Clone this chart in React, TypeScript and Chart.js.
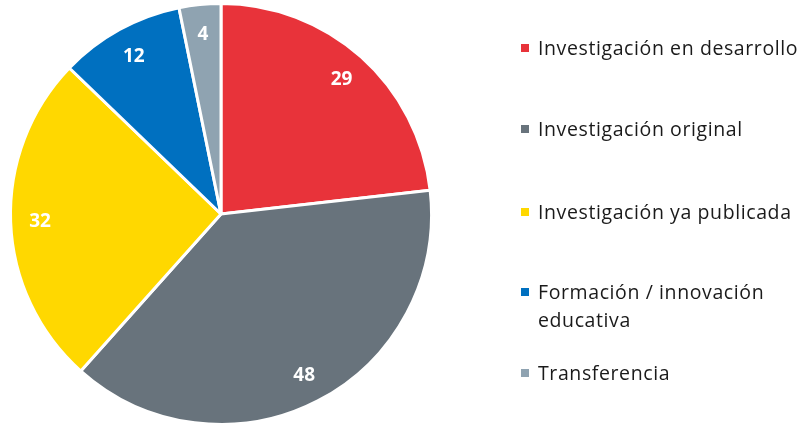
import React, { useEffect, useRef } from "react";
import { Chart, registerables } from "chart.js";

Chart.register(...registerables);

const categories = [
  "Investigación en desarrollo",
  "Investigación original",
  "Investigación ya publicada",
  "Formación / innovación educativa",
  "Transferencia",
];
const legendLines = [
  ["Investigación en desarrollo"],
  ["Investigación original"],
  ["Investigación ya publicada"],
  ["Formación / innovación", "educativa"],
  ["Transferencia"],
];
const values = [29, 48, 32, 12, 4];
const colors = ["#E8333A", "#68737C", "#FFD800", "#0070C0", "#8FA3B1"];

const FONT = "'Open Sans', Lato, sans-serif";

const labelPlugin = {
  id: "sliceLabels",
  afterDatasetsDraw(chart: any) {
    const ctx = chart.ctx;
    const meta = chart.getDatasetMeta(0);
    ctx.save();
    ctx.fillStyle = "#FFFFFF";
    ctx.font = `bold 19px ${FONT}`;
    ctx.textAlign = "center";
    ctx.textBaseline = "middle";
    meta.data.forEach((arc: any, i: number) => {
      const p = arc.getProps(["x", "y", "startAngle", "endAngle", "outerRadius"], true);
      const mid = (p.startAngle + p.endAngle) / 2;
      const r = p.outerRadius * 0.86;
      ctx.fillText(String(values[i]), p.x + Math.cos(mid) * r, p.y + Math.sin(mid) * r + 1);
    });
    ctx.restore();
  },
};

export default function App() {
  const ref = useRef<HTMLCanvasElement>(null);
  useEffect(() => {
    const chart = new Chart(ref.current!, {
      type: "pie",
      data: {
        labels: categories,
        datasets: [
          {
            data: values,
            backgroundColor: colors,
            borderColor: "#FFFFFF",
            borderWidth: 3,
          },
        ],
      },
      options: {
        animation: false,
        responsive: false,
        layout: { padding: { left: 8, right: 367, top: 2, bottom: 0 } },
        plugins: {
          legend: { display: false },
          tooltip: { enabled: false },
        },
      },
      plugins: [labelPlugin],
    });
    return () => chart.destroy();
  }, []);

  const legendTops = [48, 129, 212, 292, 373];

  return (
    <div style={{ position: "fixed", left: 0, top: 0, width: 801, height: 426, background: "#fff" }}>
      <canvas ref={ref} width={801} height={426} style={{ position: "absolute", left: 0, top: 0 }} />
      {legendLines.map((lines, i) => (
        <div
          key={i}
          style={{
            position: "absolute",
            left: 521,
            top: legendTops[i] - 14,
            fontFamily: FONT,
            fontSize: 19.5,
            letterSpacing: "0.6px",
            lineHeight: "28px",
            color: "#1a1a1a",
            whiteSpace: "nowrap",
          }}
        >
          <span
            style={{
              position: "absolute",
              left: 0,
              top: 10,
              width: 8,
              height: 8,
              background: colors[i],
            }}
          />
          <div style={{ marginLeft: 17 }}>
            {lines.map((l, j) => (
              <div key={j}>{l}</div>
            ))}
          </div>
        </div>
      ))}
    </div>
  );
}
